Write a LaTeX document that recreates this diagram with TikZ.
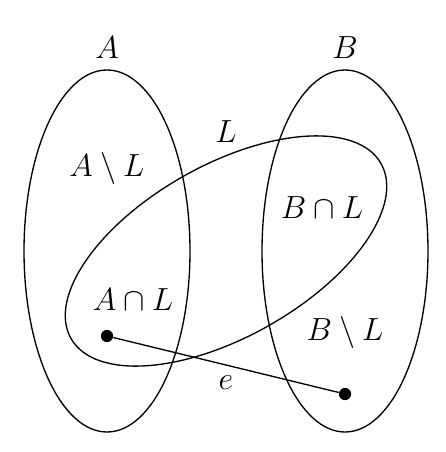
\documentclass[tikz,border=0pt]{standalone}
\usepackage{amsmath}
\usepackage{amssymb}
\usetikzlibrary{calc,positioning}
\tikzset{
    set outline/.style={line width=0.6pt},
    set label/.style={font=\Large, inner sep=1pt},
    elem dot/.style={circle, fill=black, inner sep=0pt, minimum size=5.5pt},
    elem edge/.style={line width=0.6pt}
}

\begin{document}
\begin{tikzpicture}[x=0.45pt,y=-0.45pt]
    \useasboundingbox (0,0) rectangle (446,452);

    % the two sets
    \draw[set outline] (107,251) ellipse [x radius=83, y radius=181];
    \draw[set outline] (345,251) ellipse [x radius=83, y radius=181];
    % the tilted set L
    \draw[set outline, rotate around={29.4:(226,251)}]
        (226,251) ellipse [x radius=178, y radius=86];

    \node[set label] (lA) at (107,48) {$A$};
    \node[set label] (lB) at (345,48) {$B$};
    \node[set label] (lL) at (226,132) {$L$};
    \node[set label] (lAmL) at (107,168) {$A\setminus L$};
    \node[set label] (lBcL) at (322,208) {$B\cap L$};
    \node[set label] (lAcL) at (133,300) {$A\cap L$};
    \node[set label] (lBmL) at (345,332) {$B\setminus L$};

    \node[elem dot] (u) at (107,336) {};
    \node[elem dot] (v) at (345,394) {};

    \draw[elem edge] (u) -- (v);
    \node[set label] (le) at (226,383) {$e$};
\end{tikzpicture}
\end{document}
